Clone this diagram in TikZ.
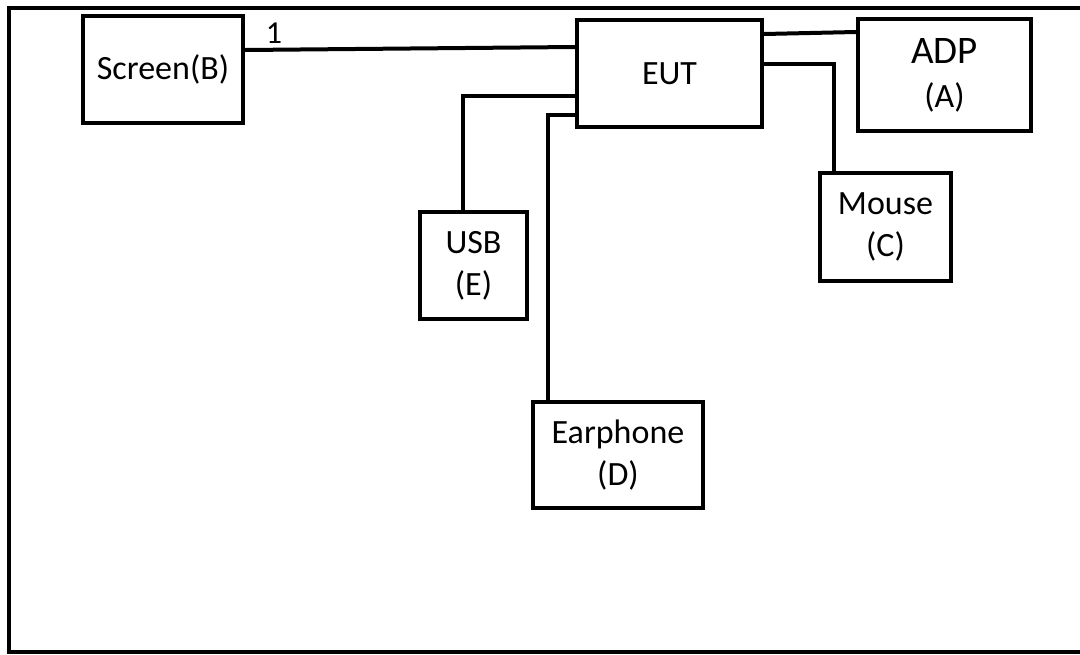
\documentclass[tikz,border=0pt]{standalone}
\usepackage{fontspec}
\setmainfont{Carlito}
\usepackage{tikz}
\usetikzlibrary{positioning}

\begin{document}
\begin{tikzpicture}[x=1pt, y=-1pt,
        box/.style={rectangle, draw, line width=4pt, align=center,
          font=\fontsize{34}{42}\selectfont, inner sep=0pt},
        wire/.style={line width=4pt},
      ]
      \useasboundingbox (0,0) rectangle (1080,654);

      % Outer frame (right side runs off the page)
      \draw[line width=4pt] (1080,8) -- (9,8) -- (9,652) -- (1080,652);

      % Equipment
      \node[box, minimum width=160pt, minimum height=107pt] (scr) at (163,69.5) {Screen(B)};
      \node[box, minimum width=185pt, minimum height=107pt] (eut) at (669.5,73.5) {EUT};
      \node[box, minimum width=173pt, minimum height=112pt] (adp) at (944.5,75)
        {{\fontsize{39}{42}\selectfont ADP}\\[2pt](A)};
      \node[box, minimum width=131pt, minimum height=108pt] (mouse) at (885.5,227) {Mouse\\(C)};
      \node[box, minimum width=107pt, minimum height=107pt] (usb) at (473.5,265.5) {USB\\(E)};
      \node[box, minimum width=170pt, minimum height=106pt] (ear) at (618,455) {Earphone\\(D)};

      % Cables
      \draw[wire] ([yshift=19.5pt]scr.east) -- ([yshift=26.5pt]eut.west);
      \node[font=\fontsize{32}{40}\selectfont] (lbl1) at (274,33) {1};
      \draw[wire] ([yshift=39.5pt]eut.east) -- ([yshift=43pt]adp.west);
      \draw[wire] ([yshift=10pt]eut.east) -| ([xshift=-51.5pt]mouse.north);
      \draw[wire] ([yshift=-22.5pt]eut.west) -| ([xshift=-10.5pt]usb.north);
      \draw[wire] ([yshift=-41.5pt]eut.west) -| ([xshift=-70pt]ear.north);

\end{tikzpicture}
\end{document}
